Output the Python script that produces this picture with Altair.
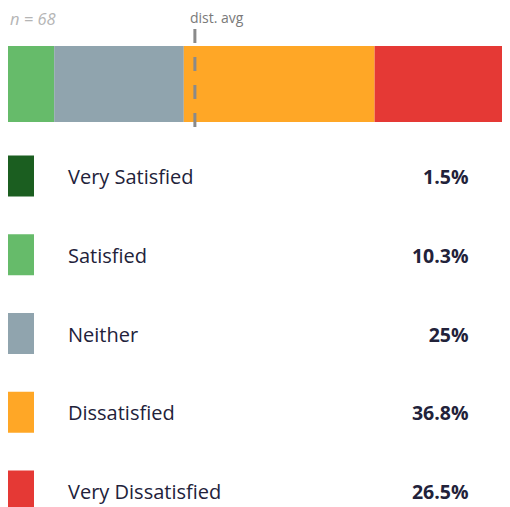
import altair as alt
import pandas as pd

categories = ["Very Satisfied", "Satisfied", "Neither", "Dissatisfied", "Very Dissatisfied"]
percents = [1.5, 10.3, 25.0, 36.8, 26.5]
colors = ["#1b5e20", "#66bb6a", "#90a4ae", "#ffa726", "#e53935"]
n_label = "n = 68"
dist_avg = 38.9  # position of the distribution average marker along the bar (%)

FONT = "Open Sans"
TEXT_COLOR = "#22223a"

df = pd.DataFrame({"category": categories, "pct": percents, "rank": list(range(len(categories)))})

x_scale = alt.Scale(domain=[0, 100], range=[-15, 504])
y_scale = alt.Scale(type="point", domain=categories, range=[168, 483], padding=0)
color_scale = alt.Scale(domain=categories, range=colors)

base = alt.Chart(df)

bar = base.transform_joinaggregate(
    total="sum(pct)"
).transform_window(
    cum="sum(pct)", sort=[alt.SortField("rank")], frame=[None, 0]
).transform_calculate(
    x0="(datum.cum - datum.pct) / datum.total * 100",
    x1="datum.cum / datum.total * 100",
).mark_rect().encode(
    x=alt.X("x0:Q", scale=x_scale, axis=None),
    x2="x1:Q",
    y=alt.value(38),
    y2=alt.value(114),
    color=alt.Color("category:N", scale=color_scale, legend=None),
)

avg_df = pd.DataFrame({"avg": [dist_avg], "label": ["dist. avg"]})
rule = alt.Chart(avg_df).mark_rule(strokeDash=[14, 14], strokeWidth=3, color="#8a8a8a").encode(
    x=alt.X("avg:Q", scale=x_scale, axis=None),
    y=alt.value(21),
    y2=alt.value(120),
)
avg_text = alt.Chart(avg_df).mark_text(
    align="left", baseline="alphabetic", dx=-5, fontSize=14, font=FONT, color="#7a7a7a"
).encode(
    x=alt.X("avg:Q", scale=x_scale, axis=None),
    y=alt.value(15),
    text="label:N",
)

n_text = alt.Chart(pd.DataFrame({"t": [n_label]})).mark_text(
    align="left", baseline="alphabetic", fontSize=16.5, fontStyle="italic", font=FONT, color="#b5b5b5"
).encode(x=alt.value(2), y=alt.value(17), text="t:N")

squares = base.mark_square(size=1681, opacity=1).encode(
    x=alt.value(5.5),
    y=alt.Y("category:N", scale=y_scale, axis=None),
    color=alt.Color("category:N", scale=color_scale, legend=None),
)

labels = base.mark_text(
    align="left", baseline="alphabetic", dy=8, fontSize=20, font=FONT, color=TEXT_COLOR
).encode(
    x=alt.value(60),
    y=alt.Y("category:N", scale=y_scale, axis=None),
    text="category:N",
)

pcts = base.transform_calculate(lbl="datum.pct + '%'").mark_text(
    align="right", baseline="alphabetic", dy=8, fontSize=19.5, fontWeight="bold", font=FONT, color=TEXT_COLOR
).encode(
    x=alt.value(460.5),
    y=alt.Y("category:N", scale=y_scale, axis=None),
    text="lbl:N",
)

chart = alt.layer(bar, rule, avg_text, n_text, squares, labels, pcts).properties(
    width=494, height=499, autosize="none", padding=0
).configure_view(stroke=None)

chart.save("out.html", embed_options={"renderer": "svg", "actions": False})
